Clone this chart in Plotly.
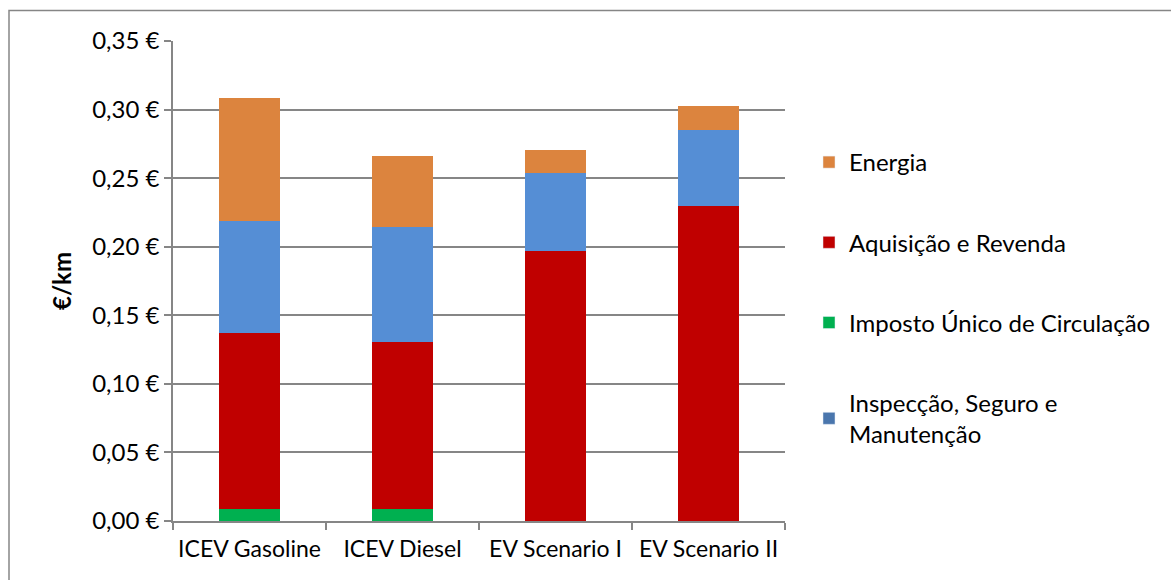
import plotly.graph_objects as go

categories = ["ICEV Gasoline", "ICEV Diesel", "EV Scenario I", "EV Scenario II"]
imposto = [0.0091, 0.0091, 0.0, 0.0]
aquisicao = [0.1282, 0.1216, 0.1971, 0.2296]
inspeccao = [0.0814, 0.0834, 0.0568, 0.0558]
energia = [0.0899, 0.0524, 0.0168, 0.0175]

names = ["Energia", "Aquisição e Revenda", "Imposto Único de Circulação",
         "Inspecção, Seguro e<br>Manutenção"]
bar_colors = {"imp": "#00B050", "aq": "#C00000", "ins": "#558ED5", "en": "#DC843E"}
legend_colors = ["#DC843E", "#C00000", "#00B050", "#4A76AD"]

FONT = "Lato"
FS = 24
fig = go.Figure()
for vals, key in [(imposto, "imp"), (aquisicao, "aq"), (inspeccao, "ins"), (energia, "en")]:
    fig.add_trace(go.Bar(x=categories, y=vals, marker=dict(color=bar_colors[key], line=dict(width=0)),
                         showlegend=False, hoverinfo="y"))

for i, (n, c) in enumerate(zip(names, legend_colors)):
    fig.add_trace(go.Bar(x=[categories[0]], y=[None], name=n, marker=dict(color=c),
                         legendgroup=f"g{i}", showlegend=True))

L, R, T, B = 173, 785, 41, 521
W, H = 1171, 580
pw, ph = R - L, B - T

fig.update_layout(
    width=W, height=H,
    margin=dict(l=L, r=W - R, t=T, b=H - B, autoexpand=False),
    barmode="stack", bargap=0.6,
    plot_bgcolor="white", paper_bgcolor="white",
    separators=", ",
    font=dict(family=FONT, size=FS, color="#000000"),
    legend=dict(x=(809 - L) / pw, y=(B - 140) / ph, xanchor="left", yanchor="top",
                traceorder="grouped", tracegroupgap=46,
                font=dict(family=FONT, size=FS), itemwidth=30,
                bgcolor="rgba(0,0,0,0)"),
    xaxis=dict(showline=True, linecolor="#868686", linewidth=1.5,
               ticks="outside", tickson="boundaries", ticklen=7, tickcolor="#868686",
               tickwidth=1.5, tickangle=0, automargin=False, ticklabelstandoff=7,
               tickfont=dict(family=FONT, size=23)),
    yaxis=dict(range=[0, 0.35], dtick=0.05, tickformat=".2f", ticksuffix=" €",
               showline=True, linecolor="#868686", linewidth=1.5,
               ticks="outside", ticklen=7, tickcolor="#868686", tickwidth=1.5,
               showgrid=True, gridcolor="#868686", gridwidth=1.5, automargin=False,
               zeroline=False, tickfont=dict(family=FONT, size=FS),
               title=dict(text="<b>€/km</b>", font=dict(family=FONT, size=FS), standoff=14)),
    shapes=[dict(type="rect", xref="paper", yref="paper",
                 x0=(9 - L) / pw, x1=(1200 - L) / pw,
                 y0=(B - 620) / ph, y1=(B - 10.5) / ph,
                 line=dict(color="#868686", width=1.5), fillcolor="rgba(0,0,0,0)", layer="below")],
)

fig.write_html("out.html", config={"displayModeBar": False},
               post_script="document.body.style.margin='0';")
